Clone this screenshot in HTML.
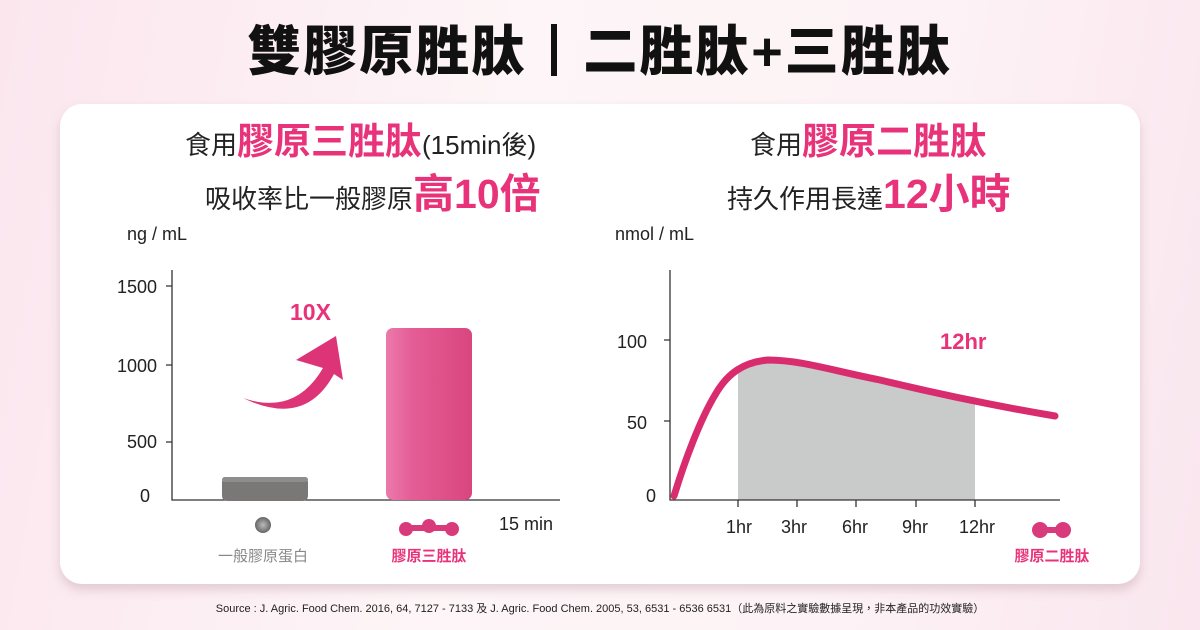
<!DOCTYPE html>
<html><head><meta charset="utf-8"><style>
*{margin:0;padding:0;box-sizing:border-box}
body{width:1200px;height:630px;overflow:hidden;background:linear-gradient(100deg,#fbe6ee 0%,#fdf5f7 40%,#fdf3f6 70%,#fae6ee 100%);font-family:"Liberation Sans","Noto Sans CJK TC",sans-serif;position:relative}
.t{position:absolute;white-space:nowrap}
.card{position:absolute;left:60px;top:104px;width:1080px;height:480px;background:#fff;border-radius:22px;box-shadow:0 6px 10px rgba(180,140,155,.35)}
.pk{color:#e8327a;font-weight:bold}
</style></head><body>
<div class="t" style="left:0;width:1200px;top:20px;text-align:center;font-size:54px;font-weight:900;color:#111;letter-spacing:2px;line-height:64px">雙膠原胜肽<span style="display:inline-block;width:6px;height:52px;background:#111;margin:0 26px 0 24px;vertical-align:-6px"></span>二胜肽+三胜肽</div>
<div class="card"></div>
<div class="t" style="left:185px;top:120px;font-size:26px;color:#222;line-height:44px">食用<span class="pk" style="font-size:37px">膠原三胜肽</span>(15min後)</div>
<div class="t" style="left:205px;top:170px;font-size:26px;color:#222;line-height:48px">吸收率比一般膠原<span class="pk" style="font-size:41px">高10倍</span></div>
<div class="t" style="left:750px;top:120px;font-size:26px;color:#222;line-height:44px">食用<span class="pk" style="font-size:37px">膠原二胜肽</span></div>
<div class="t" style="left:727px;top:170px;font-size:26px;color:#222;line-height:48px">持久作用長達<span class="pk" style="font-size:41px">12小時</span></div>
<div class="t" style="left:127px;top:224px;font-size:18px;color:#222">ng / mL</div>
<div class="t" style="left:615px;top:224px;font-size:18px;color:#222">nmol / mL</div>
<svg width="1200" height="630" style="position:absolute;left:0;top:0">
<defs>
<linearGradient id="pb" x1="0" x2="1"><stop offset="0" stop-color="#eb7aab"/><stop offset=".3" stop-color="#e55d96"/><stop offset="1" stop-color="#d9467f"/></linearGradient>
<radialGradient id="gb"><stop offset="0" stop-color="#bbb"/><stop offset="1" stop-color="#666"/></radialGradient>
</defs>
<g font-family="Liberation Sans,sans-serif" font-size="18" fill="#222" text-anchor="end">
<text x="157" y="293">1500</text><text x="157" y="372">1000</text><text x="157" y="448">500</text><text x="150" y="502">0</text>
<text x="647" y="348">100</text><text x="647" y="429">50</text><text x="656" y="502">0</text>
</g>
<g stroke="#333" stroke-width="1.3" fill="none">
<path d="M172 270V500H560M166 286H172M166 365H172M166 442H172"/>
</g>
<rect x="222" y="477" width="86" height="24" rx="5" fill="#7a7877"/>
<rect x="222" y="477" width="86" height="5" rx="3" fill="#8f8d8c"/>
<rect x="386" y="328" width="86" height="172" rx="7" fill="url(#pb)"/>
<path d="M243 398 Q295 416 323 368 L296 360 L336 336 L343 380 L334 374 Q305 428 243 398Z" fill="#dd3377"/>
<text x="290" y="320" font-size="23" font-weight="bold" fill="#e8327a" font-family="Liberation Sans,sans-serif">10X</text>
<circle cx="263" cy="525" r="8" fill="url(#gb)"/>
<g fill="#d93a7c"><circle cx="406" cy="529" r="7"/><circle cx="429" cy="526" r="7"/><circle cx="452" cy="529" r="7"/><rect x="406" y="525" width="46" height="6"/></g>
<text x="499" y="530" font-size="18" fill="#222" font-family="Liberation Sans,sans-serif">15 min</text>
<text x="263" y="561" font-size="15" fill="#888" text-anchor="middle" font-family="Noto Sans CJK TC,sans-serif">一般膠原蛋白</text>
<text x="429" y="561" font-size="15" font-weight="bold" fill="#e8327a" text-anchor="middle" font-family="Noto Sans CJK TC,sans-serif">膠原三胜肽</text>
<path d="M738 370 C750 362 768 358 790 362 L856 375 L975 403 L975 500 L738 500Z" fill="#c9caca"/>
<g stroke="#333" stroke-width="1.3" fill="none">
<path d="M670 270V500H1060M664 340H670M664 421H670M738 500V507M797 500V507M856 500V507M916 500V507M975 500V507"/>
</g>
<path d="M674 496 C685 460 700 420 715 395 C728 372 745 362 768 360 C800 360 830 370 880 380 C930 392 990 405 1055 416" stroke="#d92c6f" stroke-width="7" fill="none" stroke-linecap="round"/>
<text x="940" y="349" font-size="22" font-weight="bold" fill="#e8327a" font-family="Liberation Sans,sans-serif">12hr</text>
<g font-family="Liberation Sans,sans-serif" font-size="18" fill="#222" text-anchor="middle">
<text x="739" y="533">1hr</text><text x="794" y="533">3hr</text><text x="855" y="533">6hr</text><text x="915" y="533">9hr</text><text x="977" y="533">12hr</text>
</g>
<g fill="#d93a7c"><circle cx="1040" cy="530" r="8"/><circle cx="1063" cy="530" r="8"/><rect x="1040" y="527" width="23" height="6"/></g>
<text x="1052" y="561" font-size="15" font-weight="bold" fill="#e8327a" text-anchor="middle" font-family="Noto Sans CJK TC,sans-serif">膠原二胜肽</text>
</svg>
<div class="t" style="left:0;width:1200px;text-align:center;top:600px;font-size:11px;color:#222">Source : J. Agric. Food Chem. 2016, 64, 7127 - 7133 及 J. Agric. Food Chem. 2005, 53, 6531 - 6536 6531（此為原料之實驗數據呈現，非本產品的功效實驗）</div>
</body></html>
